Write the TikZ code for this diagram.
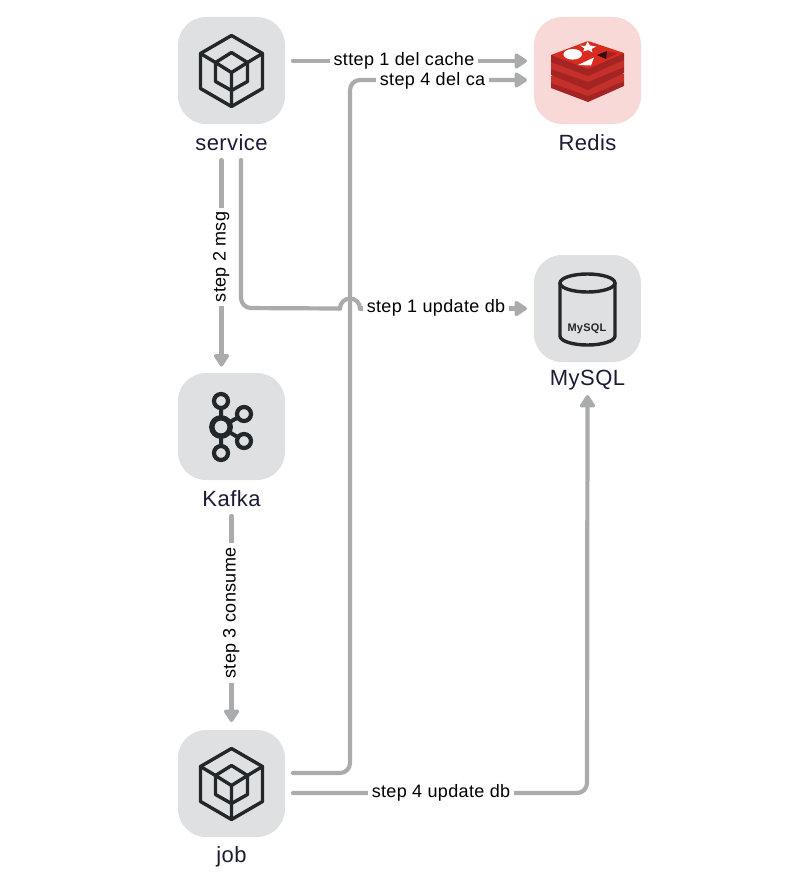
\documentclass[tikz,border=0pt]{standalone}
\usepackage{fontspec}
\setmainfont[LetterSpace=2]{Liberation Sans}
\usetikzlibrary{arrows.meta}
\definecolor{tilegray}{HTML}{DFE0E1}
\definecolor{tilered}{HTML}{F8D9D7}
\definecolor{wire}{HTML}{A9ABAC}
\definecolor{ink}{HTML}{1B1B36}
\definecolor{glyph}{HTML}{22272B}
\definecolor{rdark}{HTML}{A32422}
\definecolor{rmid}{HTML}{C6302B}
\definecolor{rtop}{HTML}{D82C20}
\tikzset{
  tile/.style={minimum width=107pt,minimum height=107pt,rounded corners=28pt,inner sep=0pt,outer sep=0pt,fill=#1},
  tile/.default=tilegray,
  caption/.style={text=ink,font=\fontsize{22}{26}\selectfont,inner sep=0pt},
  wirelabel/.style={text=black,fill=white,font=\fontsize{18}{20}\selectfont,inner sep=0pt,outer sep=0pt,text height=13pt,text depth=4pt,inner xsep=4pt},
  conn/.style={draw=wire,line width=4.2pt,rounded corners=10pt,line cap=round},
  arrowed/.style={conn,-{Triangle[round,length=14pt,width=17pt]}},
  glyphline/.style={draw=glyph,line width=3.4pt,line join=round,line cap=round},
  cube/.pic={
    \draw[glyphline] (0,-35) -- (31,-17) -- (31,18) -- (0,36) -- (-31,18) -- (-31,-17) -- cycle;
    \draw[glyphline] (0,-18) -- (16,-8) -- (16,11) -- (0,20) -- (-16,11) -- (-16,-8) -- cycle;
    \draw[glyphline] (-16,-8) -- (0,2) -- (16,-8) (0,2) -- (0,36);
    \draw[glyphline] (-31,-17) -- (-16,-8) (31,-17) -- (16,-8);
  }
}
\begin{document}
\begin{tikzpicture}[x=1pt,y=-1pt]
\useasboundingbox (0,0) rectangle (809,883);
\node[tile] (service) at (231.5,70.5) {};
\node[tile=tilered] (redis) at (587.5,70.5) {};
\node[tile] (mysql) at (587.5,308.5) {};
\node[tile] (kafka) at (231.5,426.5) {};
\node[tile] (job) at (231.5,783.5) {};
\node[caption] (servicecap) at (231.5,142.5) {service};
\node[caption] (rediscap) at (587.5,142.5) {Redis};
\node[caption] (mysqlcap) at (587.5,380.5) {MySQL};
\node[caption] (kafkacap) at (231.5,499) {Kafka};
\node[caption] (jobcap) at (231.5,856.5) {job};
% icons
\pic at (231.5,70.5) {cube};
\pic at (231.5,783.5) {cube};
% Redis logo
\fill[rdark] (551,83) -- (551,88) -- (588,102) -- (624,86) -- (624,81) -- cycle;
\fill[rmid] (551,76) -- (588,62) -- (624,74) -- (624,81) -- (588,96) -- (551,83) -- cycle;
\fill[rdark] (551,69) -- (551,75) -- (588,90) -- (624,73) -- (624,67) -- cycle;
\fill[rmid] (551,62) -- (588,48) -- (624,60) -- (624,67) -- (588,82) -- (551,69) -- cycle;
\fill[rdark] (551,55) -- (551,62) -- (588,76) -- (624,60) -- (624,53) -- cycle;
\fill[rtop,rounded corners=1pt] (551,55) -- (588,41) -- (624,53) -- (588,69) -- cycle;
\fill[white] (580,45.5) -- (585.5,46) -- (587.5,41.5) -- (590,45.5) -- (596,46.5) -- (591.5,49) -- (592.5,52.5) -- (588,50) -- (583,51.5) -- (584.5,48.5) -- cycle;
\fill[white] (572.7,54.3) ellipse[x radius=9.3pt,y radius=5.3pt];
\fill[white] (578,65) -- (594,57.5) -- (591,65.5) -- cycle;
\fill[rdark] (597,55) -- (607,51) -- (617,53.5) -- (606,59) -- cycle;
\fill[black!65!rdark] (597,55) -- (607,51) -- (606,59) -- cycle;
% MySQL cylinder
\draw[glyphline] (560,283) -- (560,336) arc[start angle=180,end angle=360,x radius=27.5pt,y radius=9pt] -- (615,283);
\draw[glyphline] (587.5,283) ellipse[x radius=27.5pt,y radius=9pt];
\node[font=\bfseries\fontsize{11}{13}\selectfont,text=glyph,inner sep=0pt] (mysqltext) at (587,329) {MySQL};
% Kafka logo
\draw[glyphline,line width=4pt] (221,401) -- (221,453) (221,427) -- (244,414) (221,427) -- (244,441);
\foreach \p in {(221,401),(221,453),(244,414),(244,441)}{
  \draw[glyphline,line width=4.2pt,fill=tilegray] \p circle[radius=7pt];
}
\draw[glyphline,line width=5.4pt,fill=tilegray] (221,427) circle[radius=9.2pt];
% connectors
\draw[arrowed] ([shift={(8,-9.5)}]service.east) -- ([shift={(-7,-9.5)}]redis.west);
\draw[arrowed] ([shift={(8,-10.5)}]job.east) -- ++(57,0) -- ([shift={(-184,9.5)}]redis.west) -- ([shift={(-7,9.5)}]redis.west);
\draw[conn] ([shift={(9.5,36)}]service.south) -- ([shift={(9.5,184)}]service.south) -- ([shift={(-194,0)}]mysql.west);
\draw[draw=wire,line width=4.2pt,line cap=round] ([shift={(-194,0)}]mysql.west) arc[start angle=180,end angle=0,radius=10pt] -- ++(2,0);
\draw[arrowed] ([shift={(-173,0)}]mysql.west) -- ([shift={(-7,0)}]mysql.west);
\draw[arrowed] ([shift={(-10,36)}]service.south) -- ([shift={(-10,-6.5)}]kafka.north);
\draw[arrowed] ([shift={(0,36)}]kafka.south) -- ([shift={(0,-8)}]job.north);
\draw[arrowed] ([shift={(8,9.5)}]job.east) -- ([shift={(302,9.5)}]job.east) -- ([shift={(0,33)}]mysql.south);
% labels
\node[wirelabel] (l1) at (404,61) {sttep 1 del cache};
\node[wirelabel] (l2) at (432.5,81) {step 4 del ca};
\node[wirelabel] (l3) at (436,308) {step 1 update db};
\node[wirelabel] (l4) at (441,793) {step 4 update db};
\node[wirelabel,rotate=90] (l5) at (221,257) {step 2 msg};
\node[wirelabel,rotate=90] (l6) at (231,613) {step 3 consume};
\end{tikzpicture}
\end{document}
